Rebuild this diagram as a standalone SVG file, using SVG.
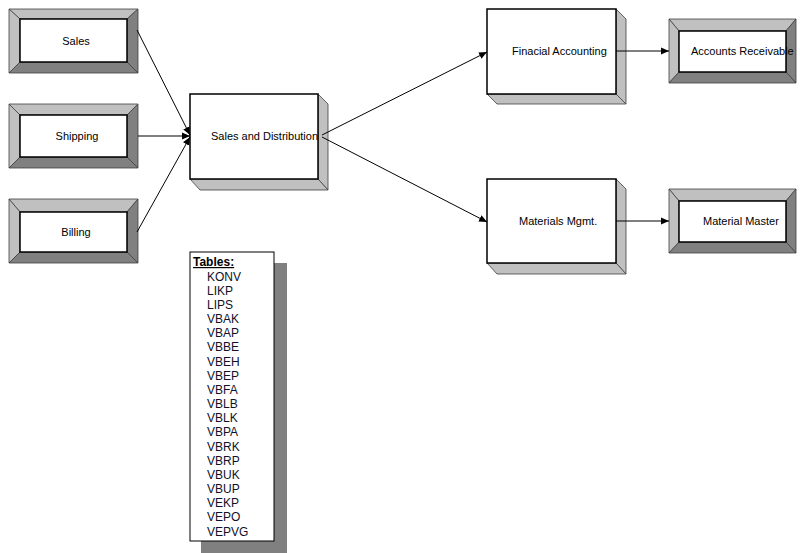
<svg xmlns="http://www.w3.org/2000/svg" width="800" height="553" viewBox="0 0 800 553">
<style>
text{font-family:"Liberation Sans",Arial,sans-serif;font-size:11px;fill:#000}
.lt{fill:#c0c0c0;stroke:#404040;stroke-width:0.8}
.dk{fill:#808080;stroke:#404040;stroke-width:0.8}
.face{fill:#fff;stroke:#000;stroke-width:1.5}
.side{fill:#c0c0c0;stroke:#404040;stroke-width:0.8}
.conn{stroke:#000;stroke-width:1;fill:none;marker-end:url(#ah)}
.tbl{font-size:12px;fill:#101028}
</style>
<defs>
<marker id="ah" markerUnits="userSpaceOnUse" markerWidth="9" markerHeight="8" refX="8" refY="4" orient="auto">
<path d="M0,0.5 L8,4 L0,7.5 z" fill="#000"/>
</marker>
</defs>
<rect width="800" height="553" fill="#fff"/>

<g id="sales">
<polygon class="lt" points="9,9 138,9 127,19 20,19"/>
<polygon class="lt" points="9,9 20,19 20,62 9,73"/>
<polygon class="dk" points="138,9 138,73 127,62 127,19"/>
<polygon class="dk" points="9,73 20,62 127,62 138,73"/>
<rect class="face" x="20" y="19" width="107" height="43"/>
<text x="76" y="45" text-anchor="middle">Sales</text>
</g>

<g id="shipping">
<polygon class="lt" points="9,104 138,104 127,115 20,115"/>
<polygon class="lt" points="9,104 20,115 20,157 9,168"/>
<polygon class="dk" points="138,104 138,168 127,157 127,115"/>
<polygon class="dk" points="9,168 20,157 127,157 138,168"/>
<rect class="face" x="20" y="115" width="107" height="42"/>
<text x="77" y="140" text-anchor="middle">Shipping</text>
</g>

<g id="billing">
<polygon class="lt" points="9,199 138,199 127,212 20,212"/>
<polygon class="lt" points="9,199 20,212 20,252 9,263"/>
<polygon class="dk" points="138,199 138,263 127,252 127,212"/>
<polygon class="dk" points="9,263 20,252 127,252 138,263"/>
<rect class="face" x="20" y="212" width="107" height="40"/>
<text x="76" y="236" text-anchor="middle">Billing</text>
</g>

<g id="sd">
<polygon class="side" points="318,94 328,104 328,190 318,179"/>
<polygon class="side" points="190,179 318,179 328,190 200,190"/>
<rect class="face" x="190" y="94" width="128" height="85"/>
<text x="211" y="140">Sales and Distribution</text>
</g>

<g id="fa">
<polygon class="side" points="616,9 626,19 626,104 616,94"/>
<polygon class="side" points="487,94 616,94 626,104 497,104"/>
<rect class="face" x="487" y="9" width="129" height="85"/>
<text x="512" y="55">Finacial Accounting</text>
</g>

<g id="mm">
<polygon class="side" points="616,179 626,189 626,274 616,263"/>
<polygon class="side" points="487,263 616,263 626,274 497,274"/>
<rect class="face" x="487" y="179" width="129" height="84"/>
<text x="519" y="225">Materials Mgmt.</text>
</g>

<g id="ar">
<polygon class="lt" points="669,19 796,19 786,31 679,31"/>
<polygon class="lt" points="669,19 679,31 679,72 669,83"/>
<polygon class="dk" points="796,19 796,83 786,72 786,31"/>
<polygon class="dk" points="669,83 679,72 786,72 796,83"/>
<rect class="face" x="679" y="31" width="107" height="41"/>
<text x="691" y="55">Accounts Receivable</text>
</g>

<g id="mmaster">
<polygon class="lt" points="669,189 796,189 786,201 679,201"/>
<polygon class="lt" points="669,189 679,201 679,242 669,253"/>
<polygon class="dk" points="796,189 796,253 786,242 786,201"/>
<polygon class="dk" points="669,253 679,242 786,242 796,253"/>
<rect class="face" x="679" y="201" width="107" height="41"/>
<text x="703" y="225">Material Master</text>
</g>

<g id="tables">
<rect x="201" y="263" width="86" height="290" fill="#808080"/>
<rect x="190" y="252" width="84" height="289" fill="#fff" stroke="#000" stroke-width="1"/>
<text x="193" y="266" style="font-size:12px;font-weight:bold" text-decoration="underline" fill="#101028">Tables:</text>
<text class="tbl" x="207" y="280.5">KONV</text>
<text class="tbl" x="207" y="294.7">LIKP</text>
<text class="tbl" x="207" y="308.8">LIPS</text>
<text class="tbl" x="207" y="323">VBAK</text>
<text class="tbl" x="207" y="337.2">VBAP</text>
<text class="tbl" x="207" y="351.3">VBBE</text>
<text class="tbl" x="207" y="365.5">VBEH</text>
<text class="tbl" x="207" y="379.7">VBEP</text>
<text class="tbl" x="207" y="393.8">VBFA</text>
<text class="tbl" x="207" y="408">VBLB</text>
<text class="tbl" x="207" y="422.2">VBLK</text>
<text class="tbl" x="207" y="436.3">VBPA</text>
<text class="tbl" x="207" y="450.5">VBRK</text>
<text class="tbl" x="207" y="464.7">VBRP</text>
<text class="tbl" x="207" y="478.8">VBUK</text>
<text class="tbl" x="207" y="493">VBUP</text>
<text class="tbl" x="207" y="507.2">VEKP</text>
<text class="tbl" x="207" y="521.3">VEPO</text>
<text class="tbl" x="207" y="535.5">VEPVG</text>
</g>

<g id="connectors">
<line class="conn" x1="137" y1="30" x2="190" y2="135"/>
<line class="conn" x1="138" y1="136" x2="190" y2="136"/>
<line class="conn" x1="137" y1="232" x2="190" y2="137"/>
<line class="conn" x1="322" y1="135" x2="487" y2="52"/>
<line class="conn" x1="322" y1="137" x2="487" y2="222"/>
<line class="conn" x1="616" y1="51" x2="669" y2="51"/>
<line class="conn" x1="616" y1="221" x2="669" y2="221"/>
</g>
</svg>
